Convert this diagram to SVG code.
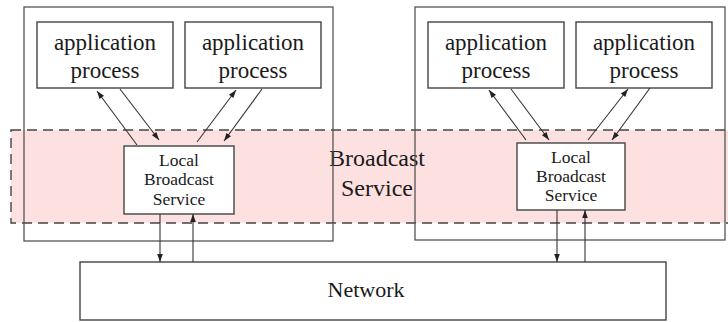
<svg xmlns="http://www.w3.org/2000/svg" width="728" height="322" viewBox="0 0 728 322">
  <style>
    .box { fill: none; stroke: #555; stroke-width: 1.3; }
    .wbox { fill: #fff; stroke: #444; stroke-width: 1.4; }
    .band { fill: #fde1e1; stroke: #444; stroke-width: 1.4; stroke-dasharray: 10 6; }
    .lbl { font-family: "Liberation Serif", "Times New Roman", serif; fill: #1a1a1a; text-anchor: middle; }
    .app { font-size: 23px; }
    .lbs { font-size: 17.5px; }
    .big { font-size: 24px; }
    .net { font-size: 22px; }
    .arr { stroke: #333; stroke-width: 1.1; fill: none; marker-end: url(#head); }
  </style>
  <defs>
    <marker id="head" viewBox="0 0 10 10" refX="10" refY="5" markerWidth="9" markerHeight="8" markerUnits="userSpaceOnUse" orient="auto">
      <path d="M0,1.5 L10,5 L0,8.5 z" fill="#222"/>
    </marker>
  </defs>

  <rect width="728" height="322" fill="#fff"/>

  <!-- broadcast service band -->
  <g id="broadcast-service">
    <rect class="band" x="11" y="130" width="740" height="93"/>
    <text class="lbl big" x="377" y="166">Broadcast</text>
    <text class="lbl big" x="377" y="196">Service</text>
  </g>

  <!-- left host -->
  <g id="host-left">
    <rect class="box" x="24" y="7" width="309" height="234"/>
  </g>
  <g id="app-1">
    <rect class="wbox" x="37" y="22" width="136" height="66"/>
    <text class="lbl app" x="105" y="50">application</text>
    <text class="lbl app" x="105" y="78">process</text>
  </g>
  <g id="app-2">
    <rect class="wbox" x="185" y="22" width="136" height="66"/>
    <text class="lbl app" x="253" y="50">application</text>
    <text class="lbl app" x="253" y="78">process</text>
  </g>
  <g id="lbs-left">
    <rect class="wbox" x="124" y="146" width="110" height="68"/>
    <text class="lbl lbs" x="179" y="166">Local</text>
    <text class="lbl lbs" x="179" y="185">Broadcast</text>
    <text class="lbl lbs" x="179" y="205">Service</text>
  </g>

  <!-- right host -->
  <g id="host-right">
    <rect class="box" x="415" y="7" width="310" height="233"/>
  </g>
  <g id="app-3">
    <rect class="wbox" x="428" y="22" width="136" height="66"/>
    <text class="lbl app" x="496" y="50">application</text>
    <text class="lbl app" x="496" y="78">process</text>
  </g>
  <g id="app-4">
    <rect class="wbox" x="576" y="22" width="136" height="66"/>
    <text class="lbl app" x="644" y="50">application</text>
    <text class="lbl app" x="644" y="78">process</text>
  </g>
  <g id="lbs-right">
    <rect class="wbox" x="517" y="143" width="108" height="67"/>
    <text class="lbl lbs" x="571" y="163">Local</text>
    <text class="lbl lbs" x="571" y="182">Broadcast</text>
    <text class="lbl lbs" x="571" y="201">Service</text>
  </g>

  <!-- network -->
  <g id="network">
    <rect class="wbox" x="80" y="262" width="586" height="58"/>
    <text class="lbl net" x="366" y="297">Network</text>
  </g>

  <!-- connectors -->
  <g id="connectors">
    <line class="arr" x1="137" y1="145" x2="97" y2="91"/>
    <line class="arr" x1="120" y1="89" x2="159" y2="140"/>
    <line class="arr" x1="197" y1="142" x2="236" y2="90"/>
    <line class="arr" x1="262" y1="89" x2="224" y2="141"/>
    <line class="arr" x1="526" y1="140" x2="489" y2="90"/>
    <line class="arr" x1="511" y1="89" x2="549" y2="140"/>
    <line class="arr" x1="588" y1="140" x2="628" y2="89"/>
    <line class="arr" x1="650" y1="88" x2="612" y2="140"/>
    <line class="arr" x1="160" y1="214" x2="160" y2="262"/>
    <line class="arr" x1="193" y1="262" x2="193" y2="214"/>
    <line class="arr" x1="557" y1="210" x2="557" y2="262"/>
    <line class="arr" x1="585" y1="262" x2="585" y2="210"/>
  </g>
</svg>
